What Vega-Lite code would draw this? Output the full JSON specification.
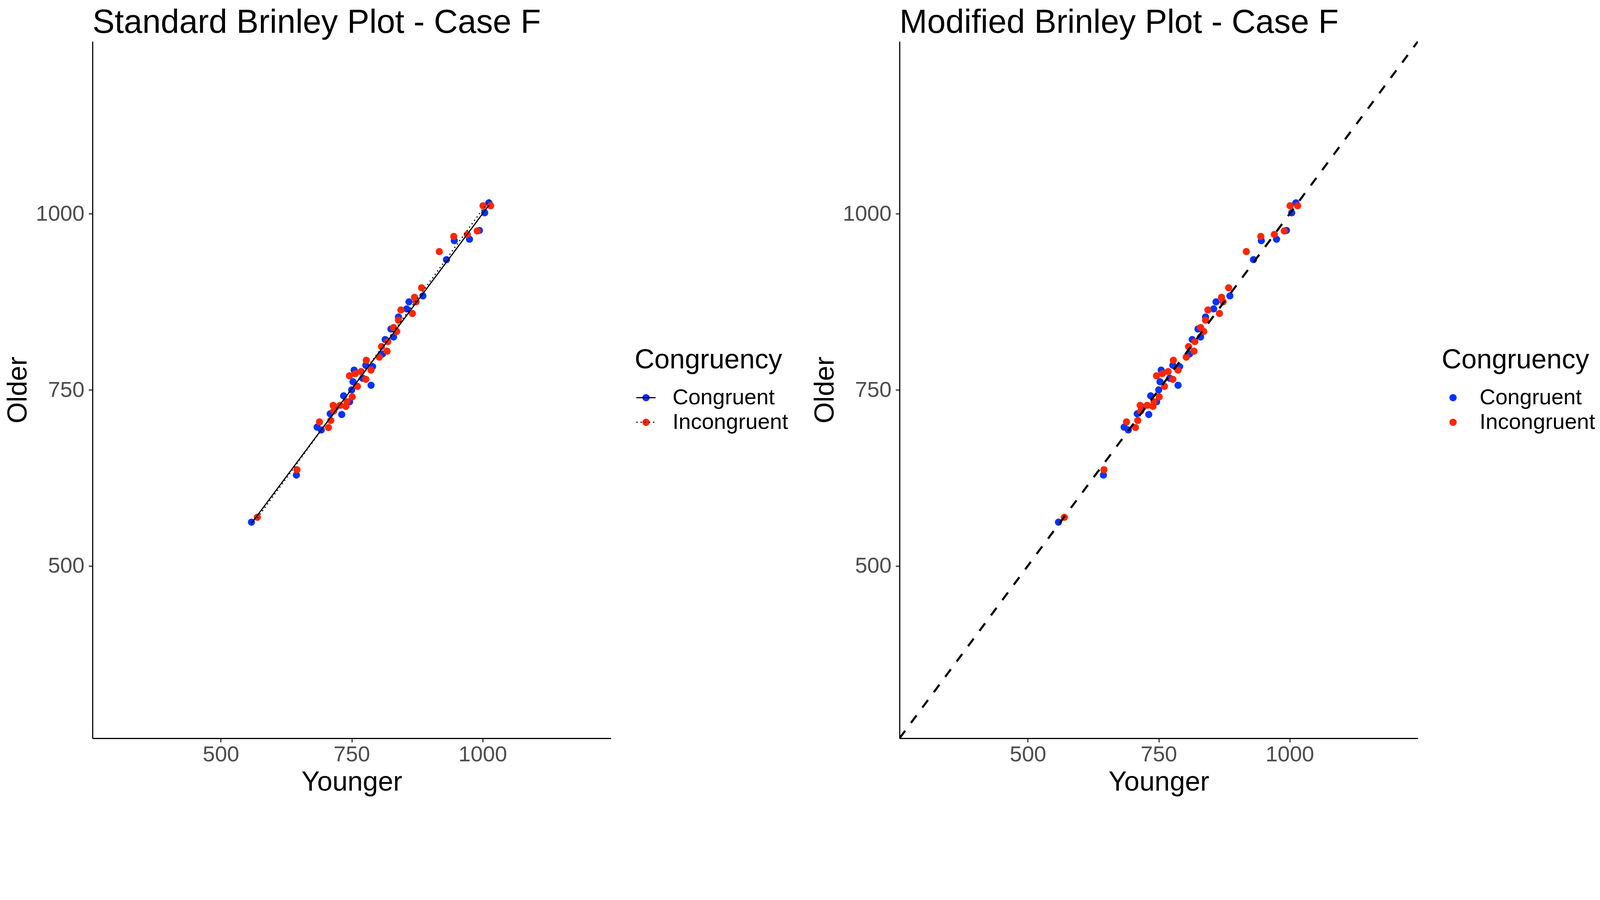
{
  "$schema": "https://vega.github.io/schema/vega-lite/v6.json",
  "padding": {"left": 10.8, "top": 16, "right": 5, "bottom": 4},
  "background": "white",
  "datasets": {
    "pts": [
      {"Younger": 558.6, "Older": 562, "Congruency": "Congruent"},
      {"Younger": 644.4, "Older": 629, "Congruency": "Congruent"},
      {"Younger": 684, "Older": 697, "Congruency": "Congruent"},
      {"Younger": 692, "Older": 693, "Congruency": "Congruent"},
      {"Younger": 709, "Older": 716, "Congruency": "Congruent"},
      {"Younger": 731, "Older": 715, "Congruency": "Congruent"},
      {"Younger": 719, "Older": 725, "Congruency": "Congruent"},
      {"Younger": 734.6, "Older": 741.5, "Congruency": "Congruent"},
      {"Younger": 746, "Older": 733, "Congruency": "Congruent"},
      {"Younger": 750, "Older": 750, "Congruency": "Congruent"},
      {"Younger": 752.5, "Older": 761.5, "Congruency": "Congruent"},
      {"Younger": 754.7, "Older": 778, "Congruency": "Congruent"},
      {"Younger": 771, "Older": 766.5, "Congruency": "Congruent"},
      {"Younger": 787, "Older": 756.5, "Congruency": "Congruent"},
      {"Younger": 777, "Older": 785, "Congruency": "Congruent"},
      {"Younger": 790, "Older": 783, "Congruency": "Congruent"},
      {"Younger": 809, "Older": 801, "Congruency": "Congruent"},
      {"Younger": 814, "Older": 821.5, "Congruency": "Congruent"},
      {"Younger": 830, "Older": 825, "Congruency": "Congruent"},
      {"Younger": 825, "Older": 836.5, "Congruency": "Congruent"},
      {"Younger": 839.4, "Older": 853.5, "Congruency": "Congruent"},
      {"Younger": 855, "Older": 865, "Congruency": "Congruent"},
      {"Younger": 859.4, "Older": 875, "Congruency": "Congruent"},
      {"Younger": 886, "Older": 883.5, "Congruency": "Congruent"},
      {"Younger": 931, "Older": 935, "Congruency": "Congruent"},
      {"Younger": 946, "Older": 962, "Congruency": "Congruent"},
      {"Younger": 975, "Older": 964, "Congruency": "Congruent"},
      {"Younger": 994, "Older": 976.5, "Congruency": "Congruent"},
      {"Younger": 1004, "Older": 1001.5, "Congruency": "Congruent"},
      {"Younger": 1012, "Older": 1015.7, "Congruency": "Congruent"},
      {"Younger": 569.8, "Older": 569, "Congruency": "Incongruent"},
      {"Younger": 645.5, "Older": 636.5, "Congruency": "Incongruent"},
      {"Younger": 688.5, "Older": 704.5, "Congruency": "Incongruent"},
      {"Younger": 705.7, "Older": 696.5, "Congruency": "Incongruent"},
      {"Younger": 710, "Older": 706.5, "Congruency": "Incongruent"},
      {"Younger": 714.6, "Older": 728, "Congruency": "Incongruent"},
      {"Younger": 715.7, "Older": 720, "Congruency": "Incongruent"},
      {"Younger": 728, "Older": 728, "Congruency": "Incongruent"},
      {"Younger": 739, "Older": 726.5, "Congruency": "Incongruent"},
      {"Younger": 741, "Older": 733, "Congruency": "Incongruent"},
      {"Younger": 751, "Older": 740, "Congruency": "Incongruent"},
      {"Younger": 761, "Older": 755, "Congruency": "Incongruent"},
      {"Younger": 745.8, "Older": 770, "Congruency": "Incongruent"},
      {"Younger": 757, "Older": 773, "Congruency": "Incongruent"},
      {"Younger": 768, "Older": 776, "Congruency": "Incongruent"},
      {"Younger": 777, "Older": 765, "Congruency": "Incongruent"},
      {"Younger": 778, "Older": 792, "Congruency": "Incongruent"},
      {"Younger": 787, "Older": 778, "Congruency": "Incongruent"},
      {"Younger": 802.6, "Older": 796.5, "Congruency": "Incongruent"},
      {"Younger": 817.5, "Older": 805, "Congruency": "Incongruent"},
      {"Younger": 807, "Older": 811.5, "Congruency": "Incongruent"},
      {"Younger": 819, "Older": 818.5, "Congruency": "Incongruent"},
      {"Younger": 830, "Older": 838.5, "Congruency": "Incongruent"},
      {"Younger": 836, "Older": 833, "Congruency": "Incongruent"},
      {"Younger": 839.4, "Older": 849, "Congruency": "Incongruent"},
      {"Younger": 844, "Older": 863.5, "Congruency": "Incongruent"},
      {"Younger": 866, "Older": 858.5, "Congruency": "Incongruent"},
      {"Younger": 870, "Older": 881.5, "Congruency": "Incongruent"},
      {"Younger": 873, "Older": 875, "Congruency": "Incongruent"},
      {"Younger": 883.5, "Older": 895, "Congruency": "Incongruent"},
      {"Younger": 917.3, "Older": 946.5, "Congruency": "Incongruent"},
      {"Younger": 945, "Older": 968, "Congruency": "Incongruent"},
      {"Younger": 970.8, "Older": 970.7, "Congruency": "Incongruent"},
      {"Younger": 989.8, "Older": 975.7, "Congruency": "Incongruent"},
      {"Younger": 1000.9, "Older": 1011.5, "Congruency": "Incongruent"},
      {"Younger": 1015.4, "Older": 1011.5, "Congruency": "Incongruent"}
    ],
    "diag": [
      {"Younger": 255, "Older": 255},
      {"Younger": 1245, "Older": 1245}
    ]
  },
  "hconcat": [
    {
      "title": {"text": "Standard Brinley Plot - Case F"},
      "width": 1327,
      "height": 1784,
      "data": {"name": "pts"},
      "encoding": {
        "x": {"field": "Younger", "type": "quantitative", "title": "Younger",
              "scale": {"domain": [255, 1245], "nice": false, "zero": false},
              "axis": {"values": [500, 750, 1000], "format": "d"}},
        "y": {"field": "Older", "type": "quantitative", "title": "Older",
              "scale": {"domain": [255, 1245], "nice": false, "zero": false},
              "axis": {"values": [500, 750, 1000], "format": "d"}}
      },
      "layer": [
        {
          "mark": {"type": "point", "filled": true, "size": 339, "opacity": 1},
          "encoding": {
            "color": {"field": "Congruency", "type": "nominal",
                      "scale": {"domain": ["Congruent", "Incongruent"], "range": ["#0433FF", "#FF2600"]},
                      "legend": {"orient": "none", "legendX": 1388, "legendY": 782, "title": "Congruency",
                                 "symbolType": "circle", "symbolSize": 347, "symbolOffset": 1,
                                 "labelOffset": 40, "clipHeight": 56, "rowPadding": 7,
                                 "titlePadding": 32, "padding": 0}}
          }
        },
        {
          "transform": [{"regression": "Older", "on": "Younger", "groupby": ["Congruency"]}],
          "mark": {"type": "line", "color": "black", "strokeWidth": 3},
          "encoding": {
            "strokeDash": {"field": "Congruency", "type": "nominal",
                           "scale": {"range": [[1, 0], [3.1, 7.6]]},
                           "legend": {"orient": "none", "legendX": 1388, "legendY": 782, "title": "Congruency",
                                      "titleOpacity": 0, "labelOpacity": 0,
                                      "symbolType": "stroke", "symbolStrokeColor": "black",
                                      "symbolStrokeWidth": 3, "symbolSize": 2443, "symbolOffset": 1,
                                      "labelOffset": 40, "clipHeight": 56, "rowPadding": 7,
                                      "titlePadding": 32, "padding": 0}}
          }
        }
      ]
    },
    {
      "title": {"text": "Modified Brinley Plot - Case F"},
      "width": 1327,
      "height": 1784,
      "encoding": {
        "x": {"field": "Younger", "type": "quantitative", "title": "Younger",
              "scale": {"domain": [255, 1245], "nice": false, "zero": false},
              "axis": {"values": [500, 750, 1000], "format": "d"}},
        "y": {"field": "Older", "type": "quantitative", "title": "Older",
              "scale": {"domain": [255, 1245], "nice": false, "zero": false},
              "axis": {"values": [500, 750, 1000], "format": "d"}}
      },
      "layer": [
        {
          "data": {"name": "pts"},
          "mark": {"type": "point", "filled": true, "size": 339, "opacity": 1},
          "encoding": {
            "color": {"field": "Congruency", "type": "nominal",
                      "scale": {"domain": ["Congruent", "Incongruent"], "range": ["#0433FF", "#FF2600"]},
                      "legend": {"orient": "none", "legendX": 1388, "legendY": 782, "title": "Congruency",
                                 "symbolType": "circle", "symbolSize": 347, "symbolOffset": 1,
                                 "labelOffset": 40, "clipHeight": 56, "rowPadding": 7,
                                 "titlePadding": 32, "padding": 0}}
          }
        },
        {
          "data": {"name": "diag"},
          "mark": {"type": "line", "color": "black", "strokeWidth": 5.4, "strokeDash": [24, 25], "clip": true},
          "encoding": {}
        }
      ]
    }
  ],
  "resolve": {"scale": {"color": "independent", "strokeDash": "independent"}},
  "spacing": 59,
  "config": {
    "font": "Liberation Sans",
    "view": {"stroke": null},
    "title": {"anchor": "start", "frame": "group", "fontSize": 85, "fontWeight": "normal", "color": "black", "offset": 0},
    "axis": {
      "grid": false,
      "domainColor": "black",
      "domainWidth": 2.9,
      "tickColor": "#333333",
      "tickWidth": 2.9,
      "tickSize": 10,
      "labelColor": "#4D4D4D",
      "labelFontSize": 56,
      "titleFontSize": 70,
      "titleFontWeight": "normal",
      "titleColor": "black",
      "titlePadding": 9
    },
    "axisX": {"labelPadding": 5},
    "axisY": {"labelPadding": 11},
    "legend": {
      "titleFontSize": 70,
      "titleFontWeight": "normal",
      "titleColor": "black",
      "titleLimit": 2000,
      "labelFontSize": 56,
      "labelColor": "black",
      "labelLimit": 2000
    }
  }
}
